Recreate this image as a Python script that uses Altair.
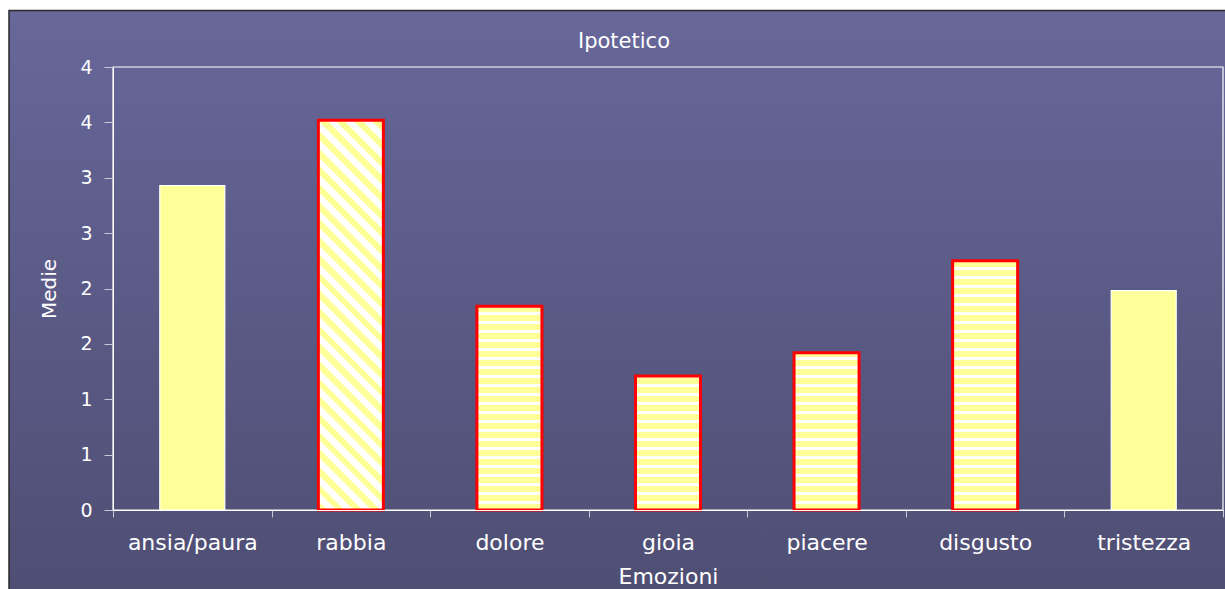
import math

import altair as alt
import pandas as pd

# --- data -------------------------------------------------------------------
categorie = ["ansia/paura", "rabbia", "dolore", "gioia", "piacere", "disgusto", "tristezza"]
medie = [2.93, 3.52, 1.84, 1.21, 1.42, 2.25, 1.98]
motivo = ["pieno", "diagonale", "orizzontale", "orizzontale", "orizzontale", "orizzontale", "pieno"]
tick_y = [0, 0.5, 1, 1.5, 2, 2.5, 3, 3.5, 4]

df = pd.DataFrame({"Emozioni": categorie, "Medie": medie, "motivo": motivo})

# --- geometry & style ---------------------------------------------------------
W, H = 1110, 443            # plot area
PAD = {"left": 113, "top": 67, "right": 2, "bottom": 79}
Y_MAX = 4
PX_PER_UNIT = H / Y_MAX
BAND = W / len(categorie)
BAR_FRAC = 0.41
BAR_W = BAND * BAR_FRAC

FONT = "DejaVu Sans"
YELLOW = "#FFFF99"
WHITE = "#FFFFFF"
RED = "#FF0000"
BG_TOP = "#67679A"
BG_BOTTOM = "#4E4D72"


def hard_stops(n_periods, yellow_frac):
    """Alternating yellow / white bands along a gradient axis."""
    stops = []
    k = 0
    while k < n_periods:
        a = k / n_periods
        b = min((k + yellow_frac) / n_periods, 1.0)
        c = min((k + 1) / n_periods, 1.0)
        stops += [
            {"offset": a, "color": YELLOW},
            {"offset": b, "color": YELLOW},
            {"offset": b, "color": WHITE},
            {"offset": c, "color": WHITE},
        ]
        k += 1
    return stops


def horizontal_stripes(value, pitch=9.0, yellow_frac=0.62):
    h = value * PX_PER_UNIT
    return {
        "gradient": "linear",
        "x1": 0, "y1": 1, "x2": 0, "y2": 0,
        "stops": hard_stops(h / pitch, yellow_frac),
    }


def diagonal_stripes(value, pitch=12.5, yellow_frac=0.5):
    # 45-degree stripes running from upper-left to lower-right; the gradient
    # vector lives in the bar's bounding-box space, so it is skewed by w/h.
    w = BAR_W
    h = value * PX_PER_UNIT
    k = (w + h) / (w * w + h * h)
    span = (w + h) / math.sqrt(2)
    return {
        "gradient": "linear",
        "x1": 0, "y1": 1, "x2": k * w, "y2": 1 - k * h,
        "stops": hard_stops(span / pitch, yellow_frac),
    }


# --- encodings ------------------------------------------------------------------
x_enc = alt.X(
    "Emozioni:N",
    sort=categorie,
    scale=alt.Scale(paddingInner=0, paddingOuter=0),
    axis=alt.Axis(
        title="Emozioni",
        labelAngle=0,
        tickBand="extent",
        tickSize=7,
        tickColor="#C8C8D8",
        domainColor=WHITE,
        labelColor=WHITE,
        labelFont=FONT,
        labelFontSize=22,
        labelPadding=15,
        titleColor=WHITE,
        titleFont=FONT,
        titleFontSize=22,
        titleFontWeight="normal",
        titlePadding=13,
        zindex=1,
    ),
)
y_enc = alt.Y(
    "Medie:Q",
    scale=alt.Scale(domain=[0, Y_MAX], nice=False),
    axis=alt.Axis(
        title="Medie",
        values=tick_y,
        format=".0f",
        grid=False,
        tickSize=9,
        tickColor="#C8C8D8",
        domainColor=WHITE,
        labelColor=WHITE,
        labelFont=FONT,
        labelFontSize=19,
        labelPadding=12,
        titleColor=WHITE,
        titleFont=FONT,
        titleFontSize=20,
        titleFontWeight="normal",
        titlePadding=20,
        zindex=1,
    ),
)

# --- layers ---------------------------------------------------------------------
one_row = pd.DataFrame({"k": [0]})

background = alt.Chart(one_row).mark_rect(
    fill={
        "gradient": "linear",
        "x1": 0, "y1": 0, "x2": 0, "y2": 1,
        "stops": [{"offset": 0, "color": BG_TOP}, {"offset": 1, "color": BG_BOTTOM}],
    },
    stroke="#2A2A2A",
    strokeWidth=1.5,
).encode(
    x=alt.value(-PAD["left"] + 9),
    x2=alt.value(W + 20),
    y=alt.value(-PAD["top"] + 10.5),
    y2=alt.value(H + PAD["bottom"] + 20),
)

frame = alt.Chart(one_row).mark_rect(filled=False, stroke=WHITE, strokeWidth=1.2).encode(
    x=alt.value(0), x2=alt.value(W), y=alt.value(0), y2=alt.value(H)
)

base = alt.Chart(df).encode(x=x_enc, y=y_enc)

solid = base.transform_filter(alt.datum.motivo == "pieno").mark_bar(
    width=alt.RelativeBandSize(BAR_FRAC), fill=YELLOW, stroke=WHITE, strokeWidth=1.2
)

pattern_layers = []
for cat, val, mot in zip(categorie, medie, motivo):
    if mot == "pieno":
        continue
    fill = diagonal_stripes(val) if mot == "diagonale" else horizontal_stripes(val)
    pattern_layers.append(
        base.transform_filter(alt.datum.Emozioni == cat).mark_bar(
            width=alt.RelativeBandSize(BAR_FRAC), fill=fill, stroke=RED, strokeWidth=3
        )
    )

chart = alt.layer(background, frame, solid, *pattern_layers).properties(
    width=W,
    height=H,
    padding=PAD,
    autosize=alt.AutoSizeParams(type="none"),
    background=WHITE,
    title=alt.TitleParams(
        text="Ipotetico",
        anchor="middle",
        frame="group",
        dx=-44,
        dy=69,
        offset=10,
        baseline="alphabetic",
        color=WHITE,
        font=FONT,
        fontSize=21,
        fontWeight="normal",
    ),
).configure_view(stroke=None)

chart.save("out.html", embed_options={"renderer": "svg", "actions": False})
